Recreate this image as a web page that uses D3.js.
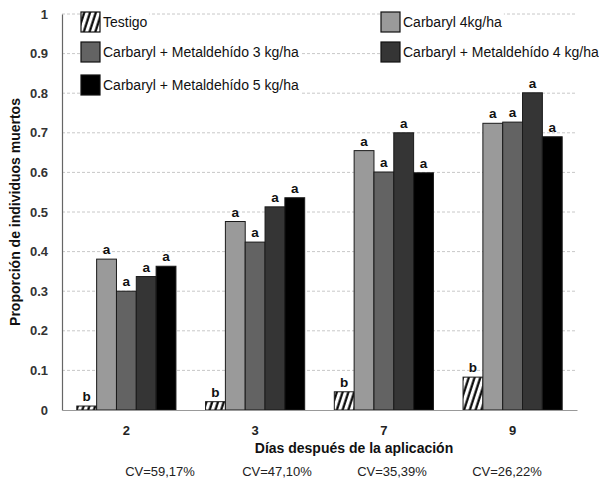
<!DOCTYPE html>
<html><head><meta charset="utf-8">
<script src="https://cdn.jsdelivr.net/npm/d3@7"></script>
<style>body{margin:0;background:#fff}svg{display:block}</style>
</head><body><svg id="c" width="599" height="480"></svg>
<script>
const categories = ["2","3","7","9"];
const seriesNames = ["Testigo","Carbaryl 4kg/ha","Carbaryl + Metaldehído 3 kg/ha","Carbaryl + Metaldehído 4 kg/ha","Carbaryl + Metaldehído 5 kg/ha"];
const testigo = [0.010,0.021,0.046,0.083];
const carbaryl4 = [0.381,0.476,0.655,0.724];
const metal3 = [0.300,0.424,0.601,0.727];
const metal4 = [0.337,0.513,0.700,0.801];
const metal5 = [0.363,0.536,0.599,0.690];
const letters = [["b","a","a","a","a"],["b","a","a","a","a"],["b","a","a","a","a"],["b","a","a","a","a"]];
const cvLabels = ["CV=59,17%","CV=47,10%","CV=35,39%","CV=26,22%"];
const yTicks = [0,0.1,0.2,0.3,0.4,0.5,0.6,0.7,0.8,0.9,1];
const colors = ["url(#hatch)","#9a9a9a","#636363","#353535","#000000"];
const values = [testigo,carbaryl4,metal3,metal4,metal5];

const svg = d3.select("#c");
const font = "'Liberation Sans', Arial, sans-serif";
const defs = svg.append("defs");
const pat = defs.append("pattern").attr("id","hatch").attr("patternUnits","userSpaceOnUse")
  .attr("width",5.5).attr("height",5.5).attr("patternTransform","rotate(18)");
pat.append("rect").attr("width",5.5).attr("height",5.5).attr("fill","#fff");
pat.append("line").attr("x1",1.5).attr("y1",0).attr("x2",1.5).attr("y2",5.5).attr("stroke","#000").attr("stroke-width",2.2);

const x0 = d3.scaleBand().domain(categories).range([62,577]).paddingInner(0.23).paddingOuter(0.115);
const x1 = d3.scaleBand().domain(d3.range(5)).range([0,x0.bandwidth()]).padding(0);
const y = d3.scaleLinear().domain([0,1]).range([410,14]);

// grid
svg.append("g").selectAll("line").data(yTicks.filter(d=>d>0)).join("line")
  .attr("x1",62).attr("x2",577).attr("y1",d=>y(d)).attr("y2",d=>y(d))
  .attr("stroke","#c8c8c8").attr("stroke-dasharray","3,2").attr("stroke-width",1);

// y axis
const yAxis = d3.axisLeft(y).tickValues(yTicks).tickSize(0).tickPadding(14).tickFormat(d=>d===0?"0":d===1?"1":d3.format(".1f")(d));
const gy = svg.append("g").attr("transform","translate(62,0)").call(yAxis);
gy.select(".domain").attr("stroke","#666").attr("stroke-width",1.2);
gy.selectAll("text").attr("font-family",font).attr("font-size",13).attr("font-weight","bold").attr("fill","#333");

// bars
const g = svg.append("g");
categories.forEach((c,ci)=>{
  values.forEach((arr,si)=>{
    g.append("rect").attr("x",x0(c)+x1(si)).attr("y",y(arr[ci]))
      .attr("width",x1.bandwidth()).attr("height",y(0)-y(arr[ci]))
      .attr("fill",colors[si]).attr("stroke","#1a1a1a").attr("stroke-width",1);
    g.append("text").attr("x",x0(c)+x1(si)+x1.bandwidth()/2).attr("y",y(arr[ci])-5)
      .attr("text-anchor","middle").attr("font-family",font).attr("font-size",13.5).attr("font-weight","bold")
      .attr("fill","#111").text(letters[ci][si]);
  });
});

// x axis
const xAxis = d3.axisBottom(x0).tickSize(0).tickPadding(16);
const gx = svg.append("g").attr("transform","translate(0,410)").call(xAxis);
gx.select(".domain").attr("stroke","#999").attr("stroke-width",1.2);
gx.selectAll("text").attr("font-family",font).attr("font-size",13).attr("font-weight","bold").attr("fill","#222");

// titles
svg.append("text").attr("x",354).attr("y",453).attr("text-anchor","middle").attr("font-family",font)
  .attr("font-size",14).attr("font-weight","bold").attr("fill","#111").text("Días después de la aplicación");
svg.append("text").attr("transform","translate(20,212) rotate(-90)").attr("text-anchor","middle").attr("font-family",font)
  .attr("font-size",14).attr("font-weight","bold").attr("fill","#111").text("Proporción de individuos muertos");

// CV labels
const cvX = [160,277,392,507];
svg.append("g").selectAll("text").data(cvLabels).join("text")
  .attr("x",(d,i)=>cvX[i]).attr("y",476).attr("text-anchor","middle").attr("font-family",font)
  .attr("font-size",13).attr("fill","#222").text(d=>d);

// legend
const legPos = [[81,22],[381,22],[81,52],[381,52],[81,85]];
seriesNames.forEach((n,i)=>{
  const [lx,ly] = legPos[i];
  const lg = svg.append("g");
  const t = lg.append("text").attr("x",lx+22).attr("y",ly+5).attr("font-family",font).attr("font-size",14)
    .attr("fill","#111").text(n);
  const w = t.node().getComputedTextLength();
  lg.insert("rect","text").attr("x",lx+20).attr("y",ly-9).attr("width",w+4).attr("height",18).attr("fill","#fff");
  lg.append("rect").attr("x",lx).attr("y",ly-10).attr("width",19).attr("height",20)
    .attr("fill",colors[i]).attr("stroke","#111").attr("stroke-width",1.2);
});
</script></body></html>
